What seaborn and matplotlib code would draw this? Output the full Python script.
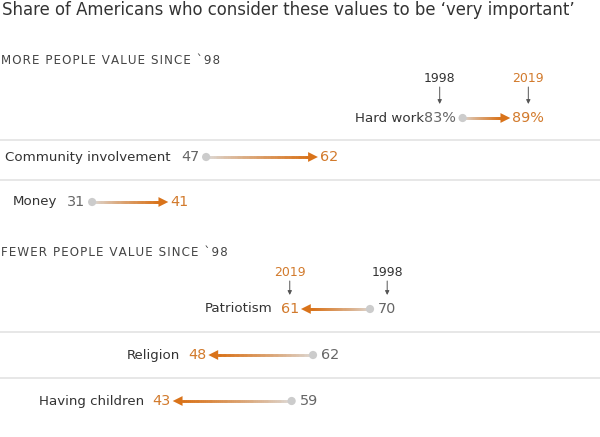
import numpy as np
import seaborn as sns
import matplotlib.pyplot as plt
from matplotlib.collections import LineCollection
from matplotlib.colors import to_rgb

# Data
values = ["Hard work", "Community involvement", "Money",
          "Patriotism", "Religion", "Having children"]
share_1998 = [83, 47, 31, 70, 62, 59]
share_2019 = [89, 62, 41, 61, 48, 43]
headers = ["MORE PEOPLE VALUE SINCE `98", "FEWER PEOPLE VALUE SINCE `98"]
title = "Share of Americans who consider these values to be \u2018very important\u2019"

# Layout (pixel rows, top down)
row_y = [118, 157, 202, 309, 355, 401]
header_y = [60, 253]
sep_y = [140, 180, 332, 378]
year_y = [78, 272]

orange = "#d9731a"
orange_txt = "#d27a2c"
grey_dot = "#cccccc"
grey_txt = "#666666"
dark = "#333333"

sns.set_style("white")
plt.rcParams['font.family'] = ['DejaVu Sans']

fig = plt.figure(figsize=(6, 4.37), dpi=100)
ax = fig.add_axes([0, 0, 1, 1])
xmin, xmax = 18.07, 102.28
ax.set_xlim(xmin, xmax)
ax.set_ylim(437, 0)
ax.axis('off')
dpx = (xmax - xmin) / 600.0  # data units per pixel

ax.text(2 * dpx + xmin, 10, title, fontsize=11.9, color=dark, va='center', ha='left')
for h, y in zip(headers, header_y):
    spaced = "\u200a".join(h)  # letter-spaced caps
    ax.text(xmin + 1 * dpx, y, spaced, fontsize=8.55, color="#444444", va='center', ha='left')
for y in sep_y:
    ax.axhline(y, color="#e3e3e3", lw=1.2)

# gradient shafts
c0 = np.array(to_rgb("#dddddd"))
c1 = np.array(to_rgb(orange))
for a, b, y in zip(share_1998, share_2019, row_y):
    direction = np.sign(b - a)
    end = b - direction * 4 * dpx
    xs = np.linspace(a, end, 60)
    segs = [[(xs[i], y), (xs[i + 1], y)] for i in range(len(xs) - 1)]
    t = np.linspace(0, 1, len(segs))[:, None] ** 0.8
    cols = c0 * (1 - t) + c1 * t
    ax.add_collection(LineCollection(segs, colors=cols, linewidths=1.8,
                                     capstyle='projecting'))

sns.scatterplot(x=share_1998, y=row_y, color=grey_dot, s=35, edgecolor='none', ax=ax, zorder=3)
up = [i for i in range(len(values)) if share_2019[i] > share_1998[i]]
down = [i for i in range(len(values)) if share_2019[i] < share_1998[i]]
sns.scatterplot(x=[share_2019[i] for i in up], y=[row_y[i] for i in up], marker='>',
                color=orange, s=50, edgecolor='none', ax=ax, zorder=3)
sns.scatterplot(x=[share_2019[i] for i in down], y=[row_y[i] for i in down], marker='<',
                color=orange, s=50, edgecolor='none', ax=ax, zorder=3)

fig.canvas.draw()
renderer = fig.canvas.get_renderer()
inv = ax.transData.inverted()

def extent(txt):
    bb = txt.get_window_extent(renderer)
    (x0, _), (x1, _) = inv.transform([(bb.x0, bb.y0), (bb.x1, bb.y1)])
    return x0, x1

fs = 10.4
fs_lab = 9.6
for i, (name, a, b, y) in enumerate(zip(values, share_1998, share_2019, row_y)):
    suffix = "%" if i == 0 else ""
    if b > a:
        t98 = ax.text(a - 7 * dpx, y, f"{a}{suffix}", ha='right', va='center',
                      fontsize=fs, color=grey_txt)
        t19 = ax.text(b + 7 * dpx, y, f"{b}{suffix}", ha='left', va='center',
                      fontsize=fs, color=orange_txt)
        gap = 0 if i == 0 else 10
        x0, _ = extent(t98)
        ax.text(x0 - gap * dpx, y, name, ha='right', va='center', fontsize=fs_lab, color=dark)
    else:
        t19 = ax.text(b - 7 * dpx, y, f"{b}{suffix}", ha='right', va='center',
                      fontsize=fs, color=orange_txt)
        t98 = ax.text(a + 8 * dpx, y, f"{a}{suffix}", ha='left', va='center',
                      fontsize=fs, color=grey_txt)
        x0, _ = extent(t19)
        ax.text(x0 - 8 * dpx, y, name, ha='right', va='center', fontsize=fs_lab, color=dark)
    if i in (0, 3):
        yy = year_y[0 if i == 0 else 1]
        for txt, lab, col in ((t98, "1998", dark), (t19, "2019", orange_txt)):
            x0, x1 = extent(txt)
            xc = (x0 + x1) / 2
            ax.text(xc, yy, lab, ha='center', va='center', fontsize=9.0, color=col)
            ax.annotate("", xy=(xc, y - 14), xytext=(xc, yy + 9),
                        arrowprops=dict(arrowstyle='-|>', color="#555555", lw=0.7,
                                        mutation_scale=6, shrinkA=0, shrinkB=0))

fig.savefig("out.png", dpi=100)
